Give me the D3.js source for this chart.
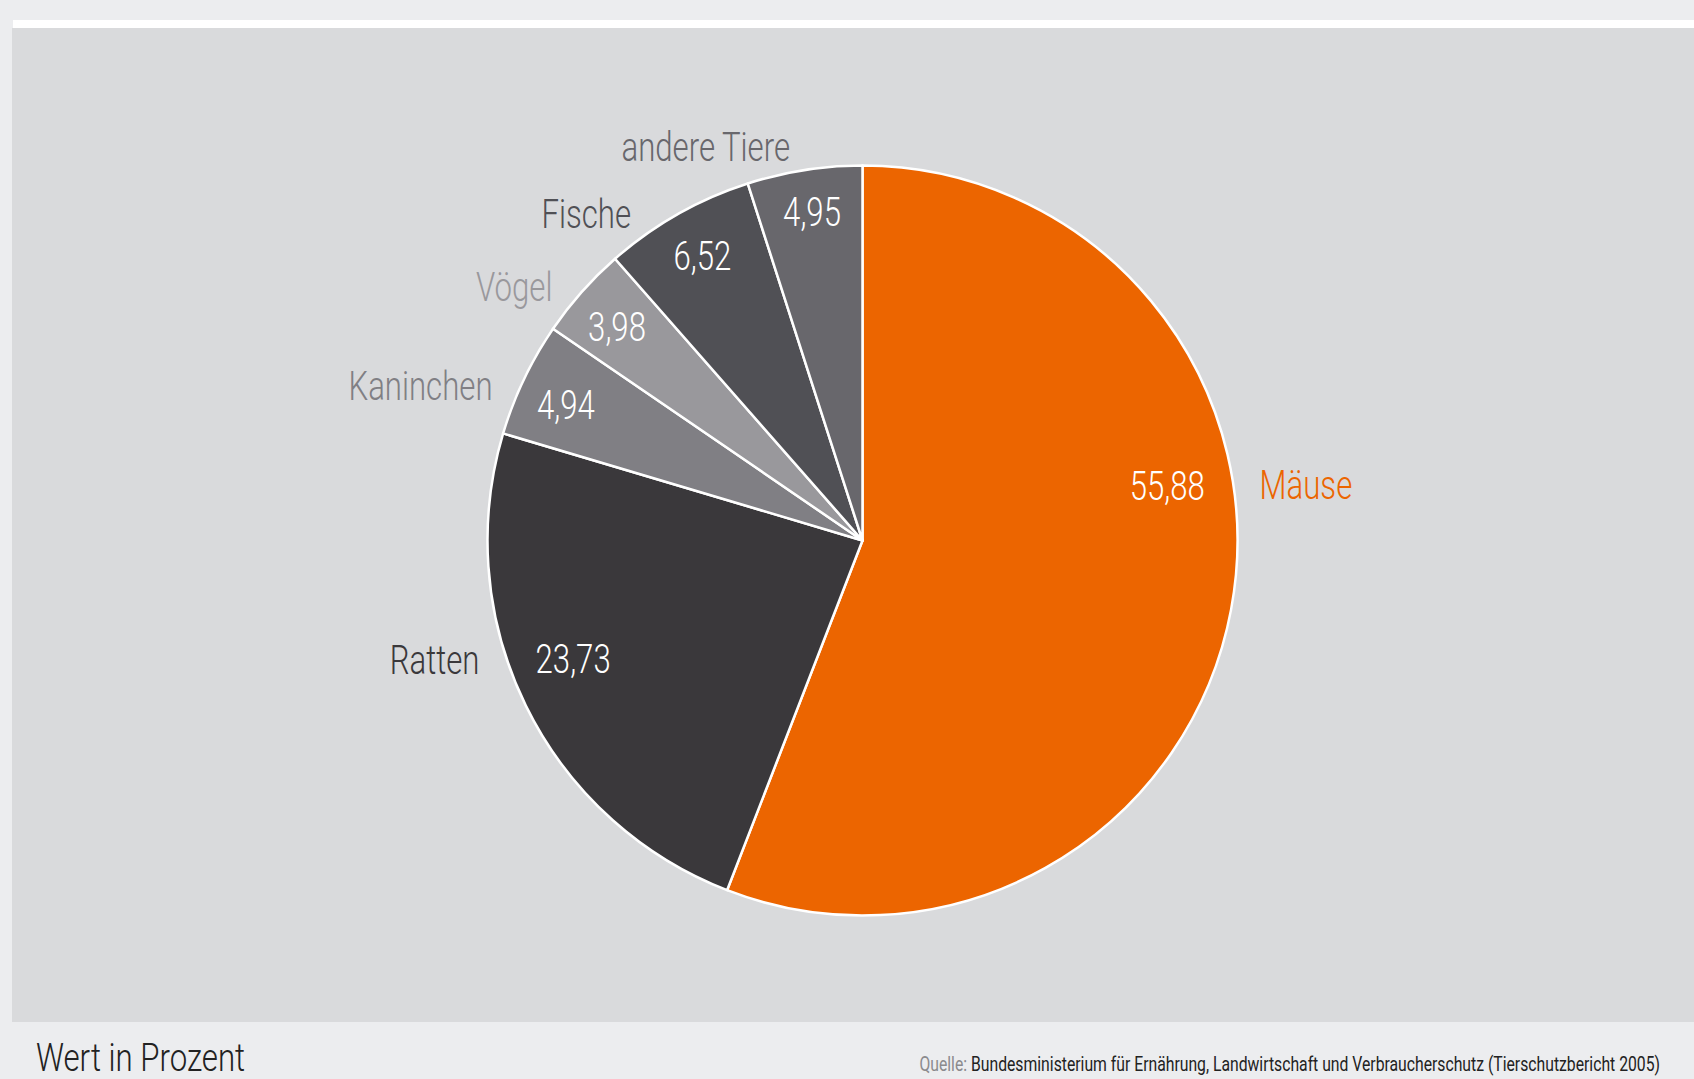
<!DOCTYPE html>
<html>
<head>
<meta charset="utf-8">
<script src="https://cdn.jsdelivr.net/npm/d3@7"></script>
<style>
  body { margin: 0; background: #ecedef; }
  svg { display: block; }
  text { font-family: Roboto, "Liberation Sans", sans-serif; }
</style>
</head>
<body>
<svg id="chart"></svg>
<script>
// Daten (Tierschutzbericht 2005, Wert in Prozent)
const categories = ["Mäuse", "Ratten", "Kaninchen", "Vögel", "Fische", "andere Tiere"];
const values = [55.88, 23.73, 4.94, 3.98, 6.52, 4.95];
const sliceColors = ["#ec6500", "#3a383b", "#807f84", "#99989c", "#505055", "#68676c"];

const width = 1694, height = 1079;
const cx = 862.5, cy = 540.5, radius = 375;
const squeeze = 0.76; // schmale Schrift nachbilden

const svg = d3.select("#chart")
  .attr("width", width)
  .attr("height", height);

// Hintergrund
svg.append("rect").attr("x", 0).attr("y", 0).attr("width", width).attr("height", height).attr("fill", "#ecedef");
svg.append("rect").attr("x", 13).attr("y", 20).attr("width", width - 13).attr("height", 9).attr("fill", "#ffffff");
svg.append("rect").attr("x", 12).attr("y", 28).attr("width", width - 12).attr("height", 994).attr("fill", "#d9dadc");

const de = d3.formatLocale({decimal: ",", thousands: ".", grouping: [3], currency: ["", " €"]});
const fmt = de.format(".2f");

const color = d3.scaleOrdinal().domain(categories).range(sliceColors);

const data = categories.map((c, i) => ({name: c, value: values[i]}));

const pie = d3.pie().sort(null).value(d => d.value).startAngle(0).endAngle(2 * Math.PI);
const arc = d3.arc().innerRadius(0).outerRadius(radius);
const arcs = pie(data);

const g = svg.append("g").attr("transform", `translate(${cx},${cy})`);

g.selectAll("path")
  .data(arcs)
  .join("path")
    .attr("d", arc)
    .attr("fill", d => color(d.data.name))
    .attr("stroke", "#ffffff")
    .attr("stroke-width", 2.5)
    .attr("stroke-linejoin", "round");

// Platzierung der Beschriftung: Winkelverschiebung (Grad, zur Segmentmitte) und Radiusfaktor
const valuePlace = {
  "Mäuse": [-20.9, 0.826], "Ratten": [4.0, 0.833], "Kaninchen": [-0.9, 0.87],
  "Vögel": [-0.5, 0.868], "Fische": [0.2, 0.871], "andere Tiere": [0.2, 0.889]
};
const nameShift = {"Mäuse": -18.6, "Ratten": 8.9, "Kaninchen": -2.8, "Vögel": -2.2, "Fische": -5.7, "andere Tiere": -1.5};

const rad = Math.PI / 180;
function polar(a, r) {
  return [r * Math.sin(a), -r * Math.cos(a)];
}
const mid = d => (d.startAngle + d.endAngle) / 2;
const fontSize = 41;

function at(p) {
  return `translate(${p[0]},${p[1]}) scale(${squeeze},1)`;
}

// Werte in den Segmenten
g.selectAll("text.value")
  .data(arcs)
  .join("text")
    .attr("class", "value")
    .attr("transform", d => {
      const [s, f] = valuePlace[d.data.name];
      return at(polar(mid(d) + s * rad, radius * f));
    })
    .attr("dy", "0.355em")
    .attr("text-anchor", "middle")
    .attr("font-size", fontSize)
    .attr("font-weight", 300)
    .attr("fill", "#ffffff")
    .text(d => fmt(d.data.value));

// Kategorienamen außen
g.selectAll("text.name")
  .data(arcs)
  .join("text")
    .attr("class", "name")
    .attr("transform", d => at(polar(mid(d) + nameShift[d.data.name] * rad, radius + 26)))
    .attr("dy", "0.355em")
    .attr("text-anchor", d => mid(d) + nameShift[d.data.name] * rad < Math.PI ? "start" : "end")
    .attr("font-size", fontSize)
    .attr("font-weight", 300)
    .attr("fill", d => color(d.data.name))
    .text(d => d.data.name);

// Fußzeile
svg.append("text")
  .attr("transform", `translate(36,1071) scale(0.8,1)`)
  .attr("font-size", 39)
  .attr("font-weight", 300)
  .attr("fill", "#222222")
  .text("Wert in Prozent");

const source = svg.append("text")
  .attr("transform", `translate(1660,1071) scale(0.75,1)`)
  .attr("text-anchor", "end")
  .attr("font-size", 21)
  .attr("fill", "#222222");
source.append("tspan").attr("fill", "#8a8a8d").text("Quelle: ");
source.append("tspan").text("Bundesministerium für Ernährung, Landwirtschaft und Verbraucherschutz (Tierschutzbericht 2005)");
</script>
</body>
</html>
